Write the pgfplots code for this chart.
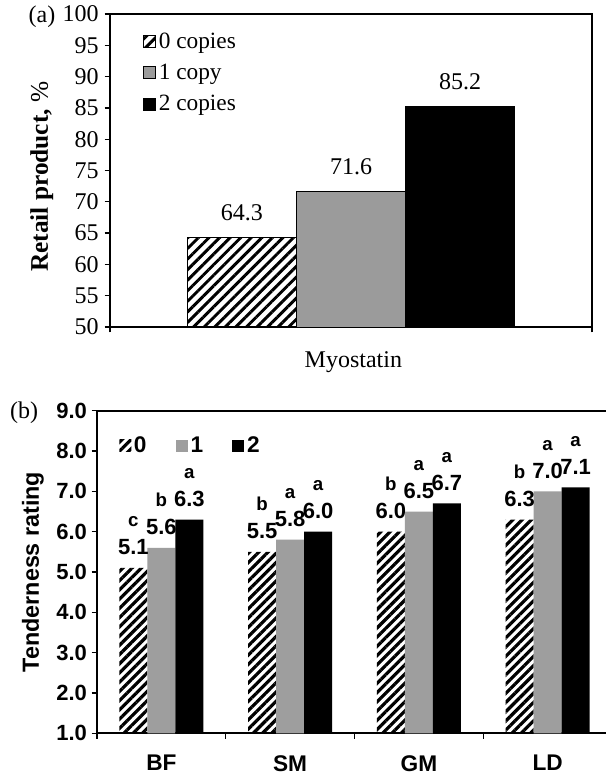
\documentclass[border=0pt]{standalone}
\usepackage{fontspec}
\setmainfont{Liberation Serif}
\newfontfamily\arial{Liberation Sans}
\usepackage{pgfplots}
\pgfplotsset{compat=1.18}
\usetikzlibrary{patterns.meta}
\definecolor{barA}{RGB}{155,155,155}
\definecolor{barB}{RGB}{158,158,158}

\begin{document}
\begin{tikzpicture}
\useasboundingbox (0,0) rectangle (454.5pt,-580.5pt);
\clip (0,0) rectangle (454.5pt,-580.5pt);
\fill[white] (0,0) rectangle (454.5pt,-580.5pt);

\node[font=\fontsize{18}{18}\selectfont] at (31.5pt,-12.75pt) {(a)};
\node[font=\fontsize{18}{18}\selectfont] at (18pt,-309.75pt) {(b)};

% ---------- panel (a)
\begin{axis}[
  at={(82.5pt,-245.25pt)}, anchor=south west,
  scale only axis, width=361.5pt, height=234.75pt,
  xmin=-0.5, xmax=0.5, ymin=50, ymax=100,
  ytick={50,55,...,100},
  xtick={-0.5,0.5}, xticklabels={},
  tick pos=left, tick align=outside,
  major tick length=4pt,
  axis line style={line width=1.3pt},
  tick style={line width=1pt, black},
  /pgf/number format/assume math mode=true,
  yticklabel style={font=\fontsize{18}{18}\selectfont, xshift=-1pt},
  xlabel={Myostatin},
  xlabel style={font=\fontsize{18}{18}\selectfont, at={(axis description cs:0.505,-0.112)}, anchor=center},
  ylabel={\textbf{Retail product,} \%},
  ylabel style={font=\fontsize{19}{19}\selectfont, at={(axis description cs:-0.1414,0.48)}, anchor=center},
  ybar, bar width=0.2266,
  nodes near coords,
  every node near coord/.append style={font=\fontsize{18}{18}\selectfont, anchor=south, inner sep=0pt, yshift=12.5pt},
  legend style={at={(axis description cs:0.0686,0.95)}, anchor=north west, draw=none, fill=none,
     font=\fontsize{17.5}{17.5}\selectfont, inner sep=0pt, row sep=6.5pt},
  legend image code/.code={\draw[#1, line width=0.6pt] (0pt,-4.5pt) rectangle (9pt,4.5pt);},
  legend cell align=left,
]
\addplot[draw=black, line width=0.6pt, pattern={Lines[angle=45,distance=5.6pt,line width=2.2pt]}, bar shift=-0.2266] coordinates {(0,64.3)};
\addplot[draw=black, line width=0.6pt, fill=barA, bar shift=0] coordinates {(0,71.6)};
\addplot[draw=black, line width=0.6pt, fill=black, bar shift=0.2266] coordinates {(0,85.2)};
\legend{0 copies, 1 copy, 2 copies}
\end{axis}

% ---------- panel (b)
\begin{axis}[
  at={(72.75pt,-550pt)}, anchor=south west,
  scale only axis, width=386.25pt, height=242pt,
  xmin=-0.5, xmax=3.5, ymin=1, ymax=9,
  ytick={1,2,...,9},
  yticklabel style={font=\arial\bfseries\fontsize{16.5}{16.5}\selectfont, /pgf/number format/.cd, fixed, fixed zerofill, precision=1},
  xtick={-0.5,0.5,1.5,2.5,3.5}, xticklabels={BF,SM,GM,LD},
  x tick label as interval,
  xticklabel style={font=\arial\bfseries\fontsize{17}{17}\selectfont, yshift=-9pt},
  tick pos=left, tick align=outside,
  major tick length=4pt,
  axis line style={line width=1.3pt},
  tick style={line width=1pt, black},
  /pgf/number format/assume math mode=true,
  ylabel={Tenderness rating},
  ylabel style={font=\arial\bfseries\fontsize{17.5}{17.5}\selectfont, at={(axis description cs:-0.1243,0.5)}, anchor=center},
  ybar, bar width=0.2174,
  point meta=explicit symbolic,
  nodes near coords={{\fontsize{14}{21}\selectfont\pgfplotspointmeta}\\{\fontsize{16.5}{21}\selectfont\pgfmathprintnumber[fixed,fixed zerofill,precision=1]{\pgfkeysvalueof{/data point/y}}}},
  every node near coord/.append style={font=\arial\bfseries\fontsize{16.5}{21}\selectfont, align=center, anchor=south, inner sep=0pt, yshift=9.5pt},
  legend style={at={(axis description cs:0.0427,0.928)}, anchor=north west, draw=none, fill=none,
     font=\arial\bfseries\fontsize{17}{17}\selectfont, inner sep=0pt,
     /tikz/every even column/.append style={column sep=20pt}},
  legend columns=3,
  legend image code/.code={\fill[#1] (0pt,-4.5pt) rectangle (9pt,4.5pt);},
]
\addplot[draw=none, pattern={Lines[angle=45,distance=4.9pt,line width=2.4pt]}, bar shift=-0.2174] coordinates {(0,5.1)[c] (1,5.5)[b] (2,6.0)[b] (3,6.3)[b]};
\addplot[draw=none, fill=barB, bar shift=0] coordinates {(0,5.6)[b] (1,5.8)[a] (2,6.5)[a] (3,7.0)[a]};
\addplot[draw=none, fill=black, bar shift=0.2174] coordinates {(0,6.3)[a] (1,6.0)[a] (2,6.7)[a] (3,7.1)[a]};
\legend{0, 1, 2}
\end{axis}
\end{tikzpicture}
\end{document}
